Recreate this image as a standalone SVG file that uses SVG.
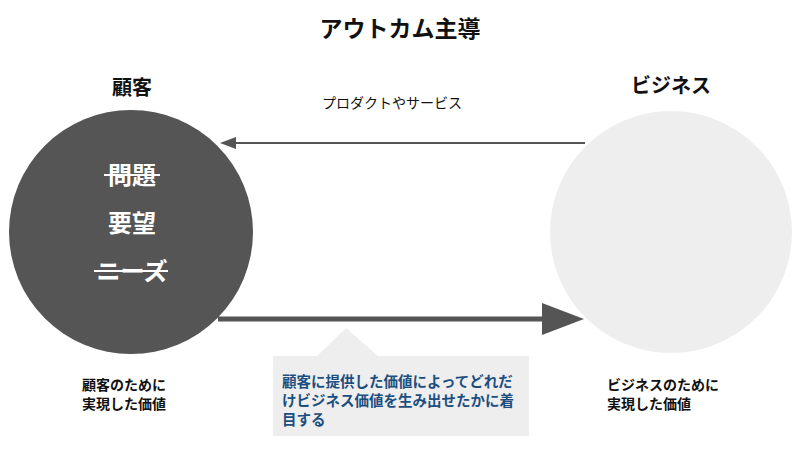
<svg xmlns="http://www.w3.org/2000/svg" width="800" height="450" viewBox="0 0 800 450">
<defs>
<style>
text{font-family:"Noto Sans CJK JP","Noto Sans",sans-serif;}
.b{font-weight:700;fill:#111;}
.w{font-weight:700;fill:#fff;font-size:24px;text-anchor:middle;}
.lbl{font-weight:700;fill:#111;font-size:14px;}
.blue{font-weight:700;fill:#1c4f80;font-size:14.5px;}
</style>
<marker id="ah" markerWidth="8" markerHeight="6" refX="7" refY="3" orient="auto" markerUnits="strokeWidth"><path d="M0,0 L7,3 L0,6 Z" fill="#555"/></marker>
</defs>
<rect width="800" height="450" fill="#fff"/>
<text class="b" x="400" y="37" font-size="23" text-anchor="middle">アウトカム主導</text>
<g id="customer">
<text class="b" x="132" y="95" font-size="20" text-anchor="middle">顧客</text>
<circle cx="131" cy="232" r="122" fill="#555"/>
<text class="w" x="132" y="184">問題</text>
<line x1="104" y1="175" x2="160" y2="175" stroke="#fff" stroke-width="2"/>
<text class="w" x="132" y="232">要望</text>
<text class="w" x="132" y="280">ニーズ</text>
<line x1="94" y1="271" x2="168" y2="271" stroke="#fff" stroke-width="2"/>
<text class="lbl" x="82" y="390">顧客のために</text>
<text class="lbl" x="82" y="409">実現した価値</text>
</g>
<g id="business">
<text class="b" x="671" y="93" font-size="20" text-anchor="middle">ビジネス</text>
<circle cx="671" cy="232" r="121" fill="#eeeeee"/>
<text class="lbl" x="607" y="390">ビジネスのために</text>
<text class="lbl" x="607" y="409">実現した価値</text>
</g>
<g id="connectors">
<line x1="585" y1="143" x2="236" y2="143" stroke="#555" stroke-width="2"/>
<path d="M220,143 L236,137 L236,149 Z" fill="#555"/>
<text x="392" y="108" font-size="14" fill="#111" text-anchor="middle">プロダクトやサービス</text>
<line x1="218" y1="319" x2="545" y2="319" stroke="#555" stroke-width="5"/>
<path d="M584,319 L542,303 L542,335 Z" fill="#555"/>
</g>
<g id="callout">
<path d="M273,356 L317,356 L346,328 L378,356 L529,356 L529,436 L273,436 Z" fill="#eeeeee"/>
<text class="blue" x="282" y="387">顧客に提供した価値によってどれだ</text>
<text class="blue" x="282" y="406">けビジネス価値を生み出せたかに着</text>
<text class="blue" x="282" y="425">目する</text>
</g>
</svg>
